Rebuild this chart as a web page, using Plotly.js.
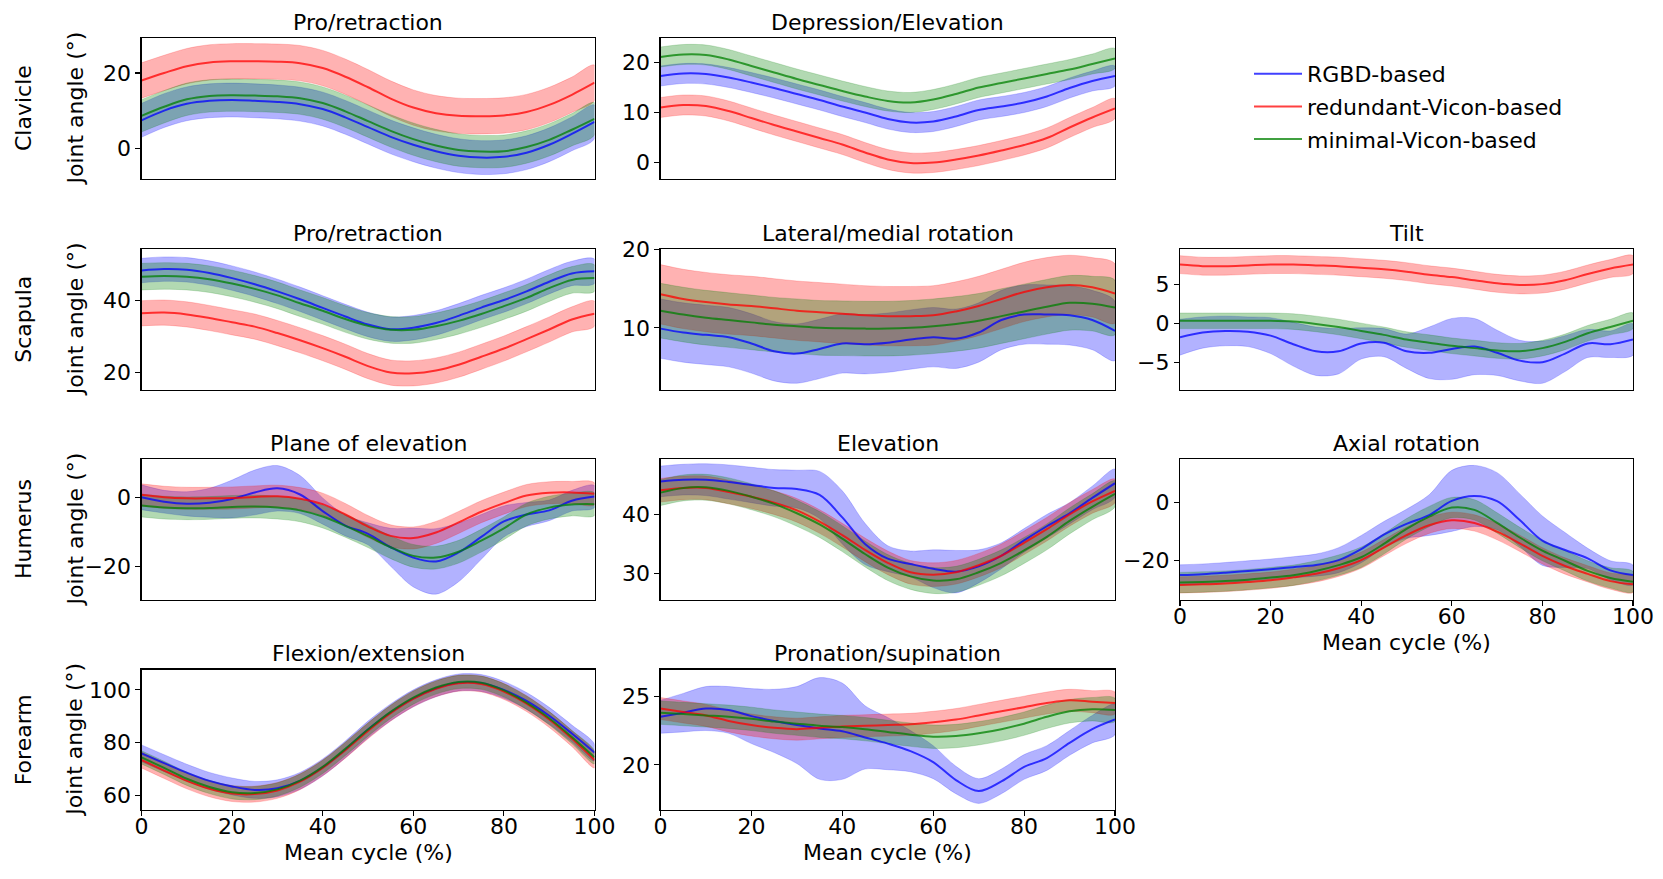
<!DOCTYPE html>
<html><head><meta charset="utf-8">
<script src="https://cdn.plot.ly/plotly-3.0.1.min.js"></script>
<style>html,body{margin:0;padding:0;background:#fff}#chart{width:1663px;height:879px}</style>
</head><body><div id="chart"></div>
<script>
// ---------------- DATA ----------------
const CYCLE = [0,5,10,15,20,25,30,35,40,45,50,55,60,65,70,75,80,85,90,95,100];
const METHODS = ['RGBD-based','redundant-Vicon-based','minimal-Vicon-based'];
const ROW_LABELS = ['Clavicle','Scapula','Humerus','Forearm'];
const X_TICKS = [0,20,40,60,80,100];

// Clavicle - Pro/retraction
const clavProRGBD   = [7.4,10.0,11.8,12.6,12.8,12.6,12.3,11.7,10.4,8.2,5.6,3.0,0.9,-0.8,-2.0,-2.5,-2.3,-1.2,0.9,3.8,7.0];
const clavProRGBDsd = 4.5;
const clavProRed    = [18.0,20.0,21.8,22.8,23.1,23.1,23.0,22.6,21.3,19.0,16.2,13.2,10.8,9.3,8.6,8.5,8.7,9.6,11.5,14.2,17.4];
const clavProRedsd  = 4.7;
const clavProMin    = [8.6,11.0,13.0,13.9,14.1,14.0,13.8,13.3,12.0,9.8,7.2,4.6,2.4,0.7,-0.5,-0.9,-0.8,0.3,2.2,4.9,7.8];
const clavProMinsd  = 4.3;

// Clavicle - Depression/Elevation
const clavDepRGBD   = [17.3,17.8,17.7,17.0,16.0,14.9,13.7,12.5,11.2,10.0,8.7,8.0,8.2,9.2,10.5,11.2,12.0,13.2,14.9,16.3,17.3];
const clavDepRGBDsd = 2.0;
const clavDepRed    = [11.0,11.5,11.3,10.3,8.9,7.5,6.2,4.9,3.6,2.0,0.6,-0.1,0.0,0.6,1.4,2.4,3.5,4.9,7.0,9.0,10.8];
const clavDepRedsd  = 2.0;
const clavDepMin    = [21.1,21.6,21.5,20.6,19.3,18.0,16.7,15.5,14.3,13.2,12.3,12.0,12.6,13.7,15.0,15.9,16.8,17.7,18.6,19.7,20.8];
const clavDepMinsd  = 2.0;

// Scapula - Pro/retraction
const scapProRGBD   = [48.4,48.8,48.6,47.7,46.3,44.6,42.6,40.4,38.0,35.6,33.4,32.1,32.5,33.8,35.8,38.1,40.2,42.6,45.3,47.6,48.2];
const scapProRGBDsd = 3.4;
const scapProRed    = [36.5,36.7,36.2,35.2,34.0,32.8,31.0,29.0,26.8,24.4,21.8,20.0,19.8,20.6,22.2,24.4,26.7,29.3,32.0,34.8,36.4];
const scapProRedsd  = 3.5;
const scapProMin    = [46.7,46.9,46.7,46.0,44.8,43.3,41.5,39.3,37.2,34.9,33.0,31.9,31.9,32.9,34.4,36.3,38.5,40.8,43.5,45.8,46.3];
const scapProMinsd  = 3.7;

// Scapula - Lateral/medial rotation
const scapLatRGBD   = [9.9,9.4,9.1,8.8,8.0,7.0,6.7,7.3,8.0,7.9,8.1,8.5,8.8,8.6,9.4,11.0,11.7,11.7,11.6,11.0,9.6];
const scapLatRGBDsd = 3.8;
const scapLatRed    = [14.3,13.7,13.3,13.0,12.8,12.5,12.2,12.0,11.8,11.6,11.5,11.5,11.6,12.1,12.8,13.7,14.6,15.2,15.5,15.2,14.4];
const scapLatRedsd  = 3.8;
const scapLatMin    = [12.2,11.7,11.3,11.0,10.7,10.4,10.2,10.0,9.95,9.9,9.9,10.0,10.2,10.5,10.9,11.5,12.1,12.7,13.2,13.1,12.6];
const scapLatMinsd  = 3.5;

// Scapula - Tilt
const scapTiltRGBD   = [-1.8,-1.2,-1.0,-1.1,-1.6,-2.7,-3.6,-3.6,-2.6,-2.5,-3.6,-3.8,-3.3,-3.0,-3.8,-4.8,-5.0,-3.9,-2.6,-2.7,-2.1];
const scapTiltRGBDsd = [2.3,2.0,1.9,1.9,2.3,2.8,3.1,2.9,2.0,1.8,2.2,3.3,3.9,3.6,2.9,2.6,2.7,2.3,1.8,1.7,2.0];
const scapTiltRed    = [7.5,7.3,7.3,7.4,7.5,7.5,7.4,7.3,7.1,6.9,6.6,6.2,5.9,5.5,5.1,4.9,5.0,5.5,6.3,7.0,7.5];
const scapTiltRedsd  = 1.15;
const scapTiltMin    = [0.3,0.3,0.3,0.3,0.3,0.2,-0.1,-0.5,-1.0,-1.5,-2.1,-2.5,-2.9,-3.2,-3.5,-3.6,-3.2,-2.4,-1.3,-0.5,0.3];
const scapTiltMinsd  = 1.0;

// Humerus - Plane of elevation
const humPlaneRGBD   = [0.0,-1.3,-1.9,-1.6,-0.5,1.4,2.6,0.8,-4.0,-8.2,-10.6,-14.5,-17.5,-18.6,-16.0,-11.5,-7.0,-5.0,-3.8,-1.0,0.2];
const humPlaneRGBDsd = [3.6,3.3,3.5,4.2,5.5,6.5,6.6,5.5,3.8,3.0,3.2,5.5,8.5,9.5,8.5,6.5,4.5,3.5,3.0,3.0,3.2];
const humPlaneRed    = [0.7,0.0,-0.3,-0.3,-0.2,0.1,0.3,-0.4,-2.0,-5.0,-8.5,-11.2,-11.8,-10.2,-7.3,-4.2,-1.7,0.5,1.3,1.4,1.0];
const humPlaneRedsd  = 3.2;
const humPlaneMin    = [-2.4,-3.0,-3.2,-3.1,-2.8,-2.7,-3.0,-3.8,-5.6,-8.3,-11.3,-14.5,-17.0,-17.5,-15.8,-12.6,-9.0,-5.0,-3.0,-2.1,-2.0];
const humPlaneMinsd  = 3.3;

// Humerus - Elevation
const humElevRGBD   = [45.6,45.9,45.9,45.5,45.0,44.5,44.3,43.3,39.5,35.0,32.5,31.6,30.8,30.3,31.2,33.0,35.6,38.0,40.2,42.8,45.3];
const humElevRGBDsd = [2.6,2.6,2.7,2.9,3.0,3.1,3.2,4.0,4.5,3.5,2.2,2.2,3.2,3.6,2.8,2.2,2.0,2.0,1.8,2.0,2.4];
const humElevRed    = [44.1,44.5,44.5,43.8,43.0,42.0,40.7,38.8,36.5,34.0,31.8,30.2,29.8,30.2,31.4,33.0,35.2,37.5,40.0,42.2,44.0];
const humElevRedsd  = 2.0;
const humElevMin    = [43.7,44.5,44.6,44.0,43.0,41.8,40.2,38.3,35.9,33.3,31.0,29.5,28.8,29.0,30.2,31.8,33.9,36.2,38.9,41.3,43.5];
const humElevMinsd  = 2.2;

// Humerus - Axial rotation
const humAxRGBD   = [-24.9,-24.6,-24.1,-23.5,-22.9,-22.2,-21.5,-19.8,-16.0,-11.0,-7.3,-4.3,0.6,2.3,0.5,-6.0,-13.1,-16.3,-19.2,-23.3,-24.9];
const humAxRGBDsd = [3.5,3.5,3.5,3.5,3.5,3.6,3.8,4.3,4.7,4.5,5.0,7.0,10.5,10.5,9.8,9.0,8.5,6.0,3.5,3.3,3.4];
const humAxRed    = [-28.3,-28.1,-27.8,-27.3,-26.7,-25.7,-24.5,-22.6,-19.8,-15.5,-11.2,-7.8,-6.1,-7.0,-10.0,-14.0,-18.3,-21.8,-24.5,-27.0,-28.1];
const humAxRedsd  = 2.8;
const humAxMin    = [-27.5,-27.3,-27.0,-26.5,-25.8,-25.0,-23.5,-21.5,-18.8,-14.2,-9.0,-4.8,-1.7,-2.5,-7.0,-12.0,-16.5,-20.0,-23.5,-25.9,-27.2];
const humAxMinsd  = 3.5;

// Forearm - Flexion/extension
const foreFlexRGBD   = [76.0,72.3,68.7,65.6,63.5,62.2,62.8,65.6,70.7,77.5,85.0,91.5,96.8,100.6,102.8,102.6,100.0,95.8,90.2,83.5,76.3];
const foreFlexRGBDsd = 3.2;
const foreFlexRed    = [73.5,69.5,65.6,62.6,60.8,60.6,62.0,65.3,70.5,77.2,84.5,91.2,96.6,100.4,102.5,102.2,99.4,94.8,88.8,81.6,73.5];
const foreFlexRedsd  = 3.0;
const foreFlexMin    = [74.5,70.5,66.4,63.3,61.3,61.0,62.4,65.7,70.9,77.7,85.0,91.7,97.1,100.9,103.0,102.7,99.8,95.2,89.3,82.2,74.5];
const foreFlexMinsd  = 2.5;

// Forearm - Pronation/supination
const forePronRGBD   = [23.5,23.8,24.1,24.0,23.55,23.2,22.9,22.65,22.45,22.0,21.55,21.0,20.2,18.9,18.1,18.8,19.85,20.5,21.6,22.6,23.3];
const forePronRGBDsd = [1.2,1.4,1.6,1.7,2.0,2.3,2.8,3.7,3.5,2.3,1.9,1.5,1.2,1.0,0.9,0.9,0.9,0.9,0.9,1.0,1.1];
const forePronRed    = [24.1,23.85,23.6,23.2,22.9,22.7,22.6,22.7,22.8,22.85,22.9,22.95,23.1,23.3,23.6,23.9,24.2,24.5,24.7,24.6,24.5];
const forePronRedsd  = 0.8;
const forePronMin    = [23.8,23.7,23.6,23.5,23.35,23.15,23.0,22.85,22.75,22.6,22.4,22.2,22.05,22.1,22.3,22.6,23.0,23.5,23.9,24.05,24.0];
const forePronMinsd  = 0.85;

// --------------- PANEL TABLE (built from the arrays) ---------------
const PANELS = [
  {title:'Pro/retraction',          row:0, col:0, range:[-8.2,29.3],  dtick:20, s:[[clavProRGBD,clavProRGBDsd],[clavProRed,clavProRedsd],[clavProMin,clavProMinsd]]},
  {title:'Depression/Elevation',    row:0, col:1, range:[-3.3,24.9],  dtick:10, s:[[clavDepRGBD,clavDepRGBDsd],[clavDepRed,clavDepRedsd],[clavDepMin,clavDepMinsd]]},
  {title:'Pro/retraction',          row:1, col:0, range:[15.3,54.4],  dtick:20, s:[[scapProRGBD,scapProRGBDsd],[scapProRed,scapProRedsd],[scapProMin,scapProMinsd]]},
  {title:'Lateral/medial rotation', row:1, col:1, range:[2.1,20.1],   dtick:10, s:[[scapLatRGBD,scapLatRGBDsd],[scapLatRed,scapLatRedsd],[scapLatMin,scapLatMinsd]]},
  {title:'Tilt',                    row:1, col:2, range:[-8.5,9.5],   dtick:5,  s:[[scapTiltRGBD,scapTiltRGBDsd],[scapTiltRed,scapTiltRedsd],[scapTiltMin,scapTiltMinsd]]},
  {title:'Plane of elevation',      row:2, col:0, range:[-29.8,11.1], dtick:20, s:[[humPlaneRGBD,humPlaneRGBDsd],[humPlaneRed,humPlaneRedsd],[humPlaneMin,humPlaneMinsd]]},
  {title:'Elevation',               row:2, col:1, range:[25.5,49.4],  dtick:10, s:[[humElevRGBD,humElevRGBDsd],[humElevRed,humElevRedsd],[humElevMin,humElevMinsd]]},
  {title:'Axial rotation',          row:2, col:2, range:[-33.5,15.0], dtick:20, s:[[humAxRGBD,humAxRGBDsd],[humAxRed,humAxRedsd],[humAxMin,humAxMinsd]], xlab:true},
  {title:'Flexion/extension',       row:3, col:0, range:[54.6,107.7], dtick:20, s:[[foreFlexRGBD,foreFlexRGBDsd],[foreFlexRed,foreFlexRedsd],[foreFlexMin,foreFlexMinsd]], xlab:true},
  {title:'Pronation/supination',    row:3, col:1, range:[16.72,26.94],dtick:5,  s:[[forePronRGBD,forePronRGBDsd],[forePronRed,forePronRedsd],[forePronMin,forePronMinsd]], xlab:true}
];

// --------------- STYLE / LAYOUT ---------------
const W = 1663, H = 879;
const COL_PX = [[141.5,594.5],[660.5,1115],[1180,1633]];
const ROW_PX = [[38,179],[249,389.5],[459,600],[669.5,810]];
const LINE_COL = ['rgba(0,0,255,0.75)','rgba(255,0,0,0.75)','rgba(0,128,0,0.75)'];
const FILL_COL = ['rgba(0,0,255,0.3)','rgba(255,0,0,0.3)','rgba(0,128,0,0.3)'];
const FONT = 'DejaVu Sans, Verdana, sans-serif';
const FS = 22;

const xd = c => [COL_PX[c][0]/W, COL_PX[c][1]/W];
const yd = r => [1-ROW_PX[r][1]/H, 1-ROW_PX[r][0]/H];
const sdAt = (sd,i) => Array.isArray(sd) ? sd[i] : sd;

const traces = [];
const layout = {
  width: W, height: H,
  margin: {l:0,r:0,t:0,b:0},
  paper_bgcolor:'#fff', plot_bgcolor:'#fff',
  font: {family: FONT, size: FS, color:'#000'},
  showlegend: true,
  legend: {x: 1249/W, y: 1-53/H, xanchor:'left', yanchor:'top', font:{family:FONT,size:FS,color:'#000'},
           bgcolor:'rgba(0,0,0,0)', borderwidth:0, tracegroupgap:1, traceorder:'grouped', itemwidth:48},
  annotations: [],
  hovermode: false
};

PANELS.forEach((p, k) => {
  const n = k+1;
  const xa = 'x'+(n===1?'':n), ya = 'y'+(n===1?'':n);
  // bands first (matplotlib draws fills under lines)
  p.s.forEach((ser, m) => {
    const mean = ser[0], sd = ser[1];
    const up = mean.map((v,i)=>v+sdAt(sd,i));
    const lo = mean.map((v,i)=>v-sdAt(sd,i));
    traces.push({
      type:'scatter', mode:'lines', xaxis:xa, yaxis:ya,
      x: CYCLE.concat(CYCLE.slice().reverse()),
      y: up.concat(lo.slice().reverse()),
      fill:'toself', fillcolor: FILL_COL[m],
      line:{color:FILL_COL[m], width:0.6, shape:'spline', smoothing:0.9},
      showlegend:false, legendgroup:'g'+m, hoverinfo:'skip'
    });
  });
  p.s.forEach((ser, m) => {
    traces.push({
      type:'scatter', mode:'lines', xaxis:xa, yaxis:ya,
      x: CYCLE, y: ser[0], name: METHODS[m],
      line:{color:LINE_COL[m], width:2, shape:'spline', smoothing:1},
      showlegend: k===0, legendgroup:'g'+m
    });
  });
  const axBase = {showline:true, mirror:true, linecolor:'#000', linewidth:1.1, showgrid:false, zeroline:false,
                  tickcolor:'#000', tickwidth:1.1, ticklen:5, tickfont:{family:FONT,size:FS,color:'#000'}, fixedrange:true};
  layout['xaxis'+(n===1?'':n)] = Object.assign({}, axBase, {
    domain: xd(p.col), anchor: ya, range:[0,100], tickmode:'array', tickvals:X_TICKS,
    ticks: p.xlab ? 'outside' : '', showticklabels: !!p.xlab, ticklabelstandoff: -9
  });
  layout['yaxis'+(n===1?'':n)] = Object.assign({}, axBase, {
    domain: yd(p.row), anchor: xa, range:p.range, tick0:0, dtick:p.dtick, ticks:'outside'
  });
  const xc = (xd(p.col)[0]+xd(p.col)[1])/2;
  layout.annotations.push({text:p.title, xref:'paper', yref:'paper', x:xc, y:yd(p.row)[1],
    xanchor:'center', yanchor:'middle', yshift:16, showarrow:false, font:{family:FONT,size:FS,color:'#000'}});
  if (p.xlab) {
    layout.annotations.push({text:'Mean cycle (%)', xref:'paper', yref:'paper', x:xc, y:yd(p.row)[0],
      xanchor:'center', yanchor:'middle', yshift:-42, showarrow:false, font:{family:FONT,size:FS,color:'#000'}});
  }
});

ROW_LABELS.forEach((lab, r) => {
  const yc = (yd(r)[0]+yd(r)[1])/2;
  layout.annotations.push({text:lab, xref:'paper', yref:'paper', x:23.5/W, y:yc, textangle:-90,
    xanchor:'center', yanchor:'middle', showarrow:false, font:{family:FONT,size:FS,color:'#000'}});
  layout.annotations.push({text:'Joint angle (°)', xref:'paper', yref:'paper', x:75/W, y:yc, textangle:-90,
    xanchor:'center', yanchor:'middle', showarrow:false, font:{family:FONT,size:FS,color:'#000'}});
});

Plotly.newPlot('chart', traces, layout, {displayModeBar:false, staticPlot:true});
</script>
</body></html>
